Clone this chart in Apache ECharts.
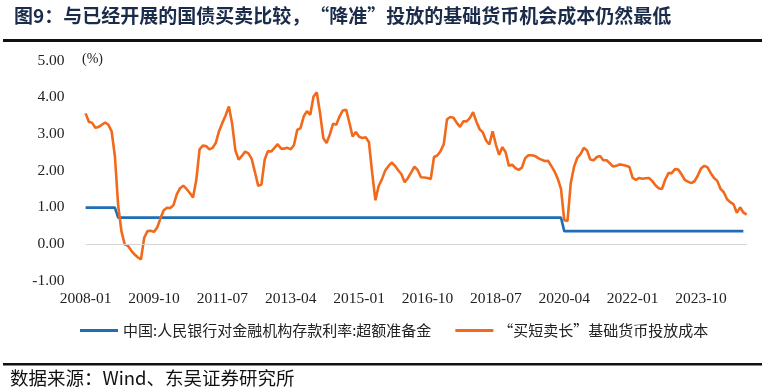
<!DOCTYPE html>
<html><head><meta charset="utf-8">
<script src="https://cdn.jsdelivr.net/npm/echarts@6/dist/echarts.min.js"></script>
<style>html,body{margin:0;padding:0;background:#fff}#c{width:764px;height:391px}</style>
</head><body><div id="c"></div>
<script>
// Monthly categories 2008-01 .. 2024-12
const categories = [];
for (let y = 2008; y <= 2024; y++) for (let m = 1; m <= 12; m++) categories.push(y + '-' + (m < 10 ? '0' + m : m));

const seriesNames = ['中国:人民银行对金融机构存款利率:超额准备金', '“买短卖长”基础货币投放成本'];

const excessReserveRate = [
  0.99,0.99,0.99,0.99,0.99,0.99,0.99,0.99,0.99,0.99,0.72,0.72,
  0.72,0.72,0.72,0.72,0.72,0.72,0.72,0.72,0.72,0.72,0.72,0.72,
  0.72,0.72,0.72,0.72,0.72,0.72,0.72,0.72,0.72,0.72,0.72,0.72,
  0.72,0.72,0.72,0.72,0.72,0.72,0.72,0.72,0.72,0.72,0.72,0.72,
  0.72,0.72,0.72,0.72,0.72,0.72,0.72,0.72,0.72,0.72,0.72,0.72,
  0.72,0.72,0.72,0.72,0.72,0.72,0.72,0.72,0.72,0.72,0.72,0.72,
  0.72,0.72,0.72,0.72,0.72,0.72,0.72,0.72,0.72,0.72,0.72,0.72,
  0.72,0.72,0.72,0.72,0.72,0.72,0.72,0.72,0.72,0.72,0.72,0.72,
  0.72,0.72,0.72,0.72,0.72,0.72,0.72,0.72,0.72,0.72,0.72,0.72,
  0.72,0.72,0.72,0.72,0.72,0.72,0.72,0.72,0.72,0.72,0.72,0.72,
  0.72,0.72,0.72,0.72,0.72,0.72,0.72,0.72,0.72,0.72,0.72,0.72,
  0.72,0.72,0.72,0.72,0.72,0.72,0.72,0.72,0.72,0.72,0.72,0.72,
  0.72,0.72,0.72,0.35,0.35,0.35,0.35,0.35,0.35,0.35,0.35,0.35,
  0.35,0.35,0.35,0.35,0.35,0.35,0.35,0.35,0.35,0.35,0.35,0.35,
  0.35,0.35,0.35,0.35,0.35,0.35,0.35,0.35,0.35,0.35,0.35,0.35,
  0.35,0.35,0.35,0.35,0.35,0.35,0.35,0.35,0.35,0.35,0.35,0.35,
  0.35,0.35,0.35,0.35,0.35,0.35,0.35,0.35,0.35,0.35,0.35,null
];

const baseMoneyCost = [
  3.56,3.33,3.30,3.17,3.19,3.25,3.31,3.25,3.07,2.39,1.05,0.35,
  -0.01,-0.05,-0.18,-0.28,-0.36,-0.42,0.17,0.35,0.36,0.33,0.45,0.70,
  0.92,0.99,0.98,1.06,1.35,1.52,1.59,1.50,1.39,1.27,1.75,2.58,
  2.68,2.67,2.58,2.62,2.76,3.08,3.30,3.50,3.75,3.28,2.55,2.30,
  2.40,2.52,2.47,2.32,1.96,1.59,1.62,2.30,2.53,2.52,2.62,2.72,
  2.60,2.60,2.62,2.58,2.70,3.11,3.16,3.48,3.62,3.52,4.02,4.13,
  3.57,2.89,2.75,2.98,3.28,3.25,3.48,3.64,3.66,3.31,2.93,3.05,
  2.92,2.89,2.91,2.78,1.95,1.19,1.58,1.76,2.00,2.12,2.22,2.13,
  2.01,1.90,1.68,1.80,1.95,2.11,2.01,1.82,1.81,1.80,1.77,2.37,
  2.41,2.53,2.72,3.40,3.46,3.44,3.30,3.19,3.34,3.34,3.43,3.59,
  3.34,3.13,3.04,2.82,2.71,3.07,2.71,2.43,2.64,2.50,2.13,2.16,
  2.07,2.02,2.08,2.34,2.42,2.42,2.40,2.34,2.30,2.26,2.27,2.13,
  1.98,1.78,1.50,0.65,0.63,1.66,2.10,2.35,2.45,2.62,2.55,2.30,
  2.28,2.37,2.40,2.28,2.28,2.20,2.11,2.13,2.17,2.15,2.13,2.10,
  1.80,1.75,1.80,1.78,1.79,1.80,1.72,1.60,1.52,1.50,1.75,1.93,
  1.93,2.04,2.03,1.90,1.75,1.70,1.66,1.71,1.86,2.06,2.13,2.09,
  1.93,1.80,1.72,1.50,1.41,1.22,1.14,1.08,0.85,1.00,0.86,0.80
];

const yTicks = { min: -1, max: 5, interval: 1 };
const titleText = '图9：与已经开展的国债买卖比较，“降准”投放的基础货币机会成本仍然最低';
const sourceText = '数据来源：Wind、东吴证券研究所';
const unitText = '(%)';

const chart = echarts.init(document.getElementById('c'), null, { renderer: 'canvas' });
const serif = '"Liberation Serif","DejaVu Serif",serif';
const cjk = '"Noto Sans CJK SC","Noto Sans",sans-serif';
chart.setOption({
  animation: false,
  backgroundColor: '#ffffff',
  grid: { left: 85.6, right: 17.4, top: 60.5, bottom: 110.3, containLabel: false },
  xAxis: {
    type: 'category', data: categories, boundaryGap: false,
    axisLine: { show: false }, axisTick: { show: false },
    axisLabel: { interval: 20, color: '#222', fontFamily: serif, fontSize: 15.5, margin: 10 },
    splitLine: { show: false }
  },
  yAxis: {
    type: 'value', min: yTicks.min, max: yTicks.max, interval: yTicks.interval,
    axisLine: { show: false }, axisTick: { show: false }, splitLine: { show: false },
    axisLabel: { color: '#222', fontFamily: serif, fontSize: 15.5, margin: 21,
      formatter: v => v.toFixed(2) }
  },
  legend: {
    left: 75, top: 318, itemWidth: 38, itemHeight: 3, itemGap: 24, icon: 'rect',
    textStyle: { fontFamily: cjk, fontSize: 15, color: '#222', padding: [0, 0, 0, 0] },
    data: seriesNames
  },
  series: [
    { name: seriesNames[0], type: 'line', data: excessReserveRate, showSymbol: false, symbol: 'none',
      lineStyle: { color: '#1f6db4', width: 2.6 }, itemStyle: { color: '#1f6db4' }, z: 3,
      markLine: { silent: true, symbol: 'none', label: { show: false },
        lineStyle: { color: '#d4d4d4', width: 1, type: 'solid' }, data: [{ yAxis: 0 }] } },
    { name: seriesNames[1], type: 'line', data: baseMoneyCost, showSymbol: false, symbol: 'none',
      lineStyle: { color: '#f2691c', width: 2.6 }, itemStyle: { color: '#f2691c' }, z: 4 }
  ],
  graphic: [
    { type: 'text', left: 14, top: 6, style: { text: titleText, font: 'bold 19px ' + cjk, fill: '#1b2c4a' } },
    { type: 'rect', shape: { x: 3, y: 39, width: 759, height: 3 }, style: { fill: '#111' } },
    { type: 'rect', shape: { x: 3, y: 363, width: 759, height: 2.5 }, style: { fill: '#111' } },
    { type: 'text', left: 10, top: 369, style: { text: sourceText, font: '18.5px ' + cjk, fill: '#111' } },
    { type: 'text', left: 82, top: 52, style: { text: unitText, font: '14px ' + serif, fill: '#222' } }
  ]
});
</script></body></html>
